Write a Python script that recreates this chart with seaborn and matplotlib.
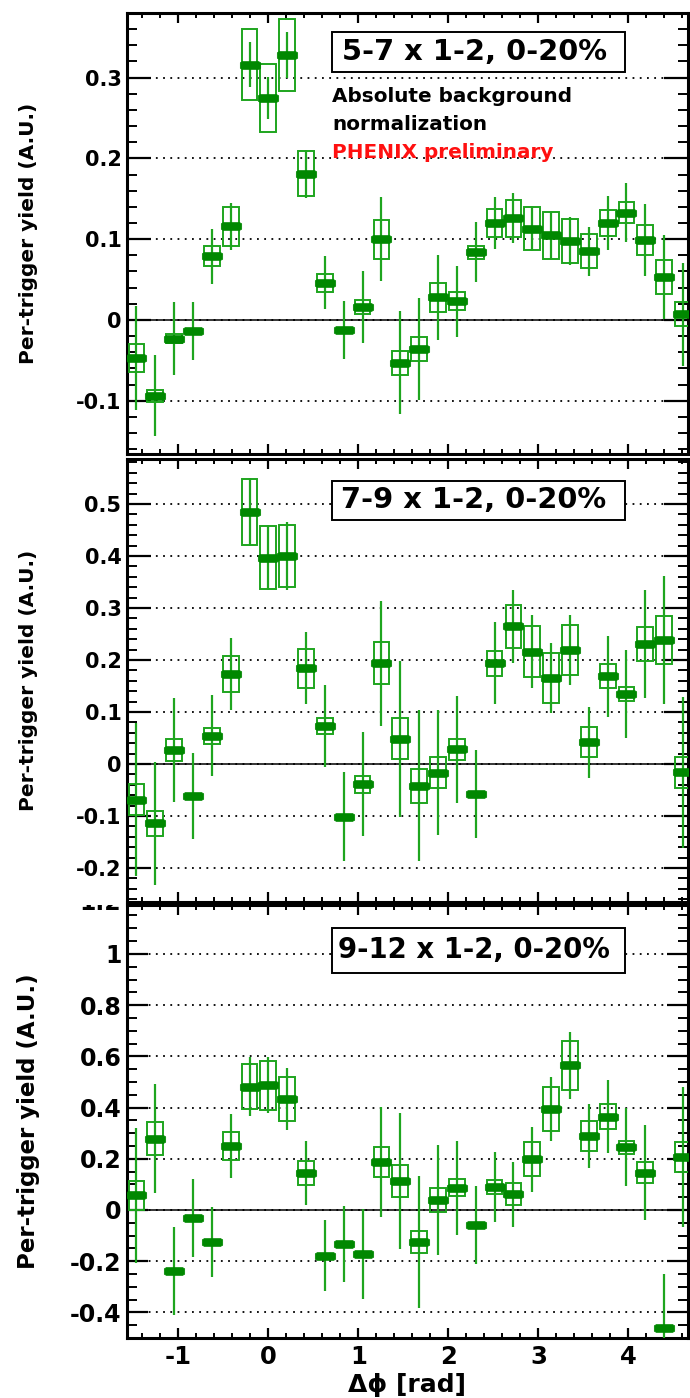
import numpy as np
import pandas as pd
import matplotlib
matplotlib.use("Agg")
import matplotlib.pyplot as plt
import seaborn as sns
from matplotlib.ticker import MultipleLocator, FuncFormatter
from matplotlib.patches import Rectangle
from matplotlib.path import Path
from matplotlib.transforms import Bbox, TransformedBbox

# ---------------- data ----------------
dphi = [-1.466, -1.257, -1.047, -0.838, -0.628, -0.419, -0.209, 0.0, 0.209, 0.419,
        0.628, 0.838, 1.047, 1.257, 1.466, 1.676, 1.885, 2.094, 2.304, 2.513,
        2.723, 2.932, 3.142, 3.351, 3.560, 3.770, 3.979, 4.189, 4.398, 4.608]

# 5-7 x 1-2, 0-20%
y1 = [-0.047, -0.094, -0.023, -0.014, 0.079, 0.116, 0.316, 0.275, 0.328, 0.181,
      0.046, -0.012, 0.016, 0.100, -0.053, -0.036, 0.028, 0.023, 0.084, 0.120,
      0.126, 0.113, 0.105, 0.098, 0.085, 0.120, 0.133, 0.099, 0.053, 0.007]
e1 = [0.064, 0.050, 0.045, 0.036, 0.034, 0.029, 0.028, 0.026, 0.028, 0.030,
      0.033, 0.036, 0.044, 0.052, 0.064, 0.063, 0.053, 0.044, 0.037, 0.032,
      0.031, 0.028, 0.029, 0.030, 0.030, 0.033, 0.036, 0.044, 0.052, 0.064]
s1 = [0.017, 0.007, 0.006, 0.0, 0.012, 0.024, 0.044, 0.042, 0.044, 0.028,
      0.011, 0.0, 0.009, 0.024, 0.015, 0.015, 0.018, 0.011, 0.008, 0.017,
      0.023, 0.027, 0.029, 0.027, 0.021, 0.016, 0.013, 0.019, 0.021, 0.015]

# 7-9 x 1-2, 0-20%
y2 = [-0.069, -0.114, 0.027, -0.062, 0.054, 0.173, 0.485, 0.397, 0.400, 0.184,
      0.073, -0.101, -0.039, 0.194, 0.049, -0.042, -0.017, 0.028, -0.058, 0.194,
      0.265, 0.216, 0.165, 0.219, 0.042, 0.169, 0.135, 0.231, 0.238, -0.016]
e2 = [0.147, 0.118, 0.100, 0.083, 0.078, 0.070, 0.065, 0.062, 0.066, 0.069,
      0.078, 0.085, 0.100, 0.120, 0.150, 0.145, 0.120, 0.103, 0.084, 0.079,
      0.070, 0.070, 0.067, 0.068, 0.068, 0.078, 0.085, 0.104, 0.123, 0.145]
s2 = [0.030, 0.024, 0.022, 0.0, 0.016, 0.035, 0.063, 0.061, 0.060, 0.037,
      0.016, 0.0, 0.016, 0.041, 0.039, 0.033, 0.030, 0.020, 0.0, 0.024,
      0.041, 0.049, 0.048, 0.048, 0.029, 0.023, 0.013, 0.032, 0.046, 0.030]

# 9-12 x 1-2, 0-20%
y3 = [0.057, 0.278, -0.239, -0.032, -0.125, 0.249, 0.482, 0.487, 0.433, 0.145,
      -0.178, -0.133, -0.172, 0.187, 0.114, -0.125, 0.039, 0.087, -0.058, 0.090,
      0.062, 0.198, 0.394, 0.565, 0.288, 0.364, 0.245, 0.146, -0.459, 0.207]
e3 = [0.265, 0.213, 0.171, 0.153, 0.135, 0.125, 0.116, 0.110, 0.120, 0.125,
      0.139, 0.148, 0.175, 0.216, 0.265, 0.258, 0.216, 0.184, 0.153, 0.138,
      0.127, 0.127, 0.124, 0.130, 0.125, 0.142, 0.153, 0.185, 0.210, 0.275]
s3 = [0.057, 0.065, 0.0, 0.0, 0.0, 0.054, 0.088, 0.095, 0.086, 0.048,
      0.0, 0.0, 0.0, 0.058, 0.063, 0.044, 0.045, 0.034, 0.0, 0.026,
      0.044, 0.066, 0.086, 0.095, 0.059, 0.048, 0.026, 0.042, 0.0, 0.060]

panel_titles = ["5-7 x 1-2, 0-20%", "7-9 x 1-2, 0-20%", "9-12 x 1-2, 0-20%"]
ylims = [(-0.166, 0.380), (-0.2654, 0.5865), (-0.50, 1.191)]
ymajor = [0.1, 0.1, 0.2]
yminor = [0.02, 0.02, 0.05]
ylabel = "Per-trigger yield (A.U.)"
xlabel = "Δϕ [rad]"
note_lines = ["Absolute background", "normalization"]
prelim = "PHENIX preliminary"
clipped_tick = 1.2

# ---------------- style ----------------
sns.set_style("ticks")
plt.rcParams["font.family"] = ["DejaVu Sans"]
plt.rcParams["font.weight"] = "bold"
plt.rcParams["axes.unicode_minus"] = False
for k in ["text.color", "axes.labelcolor", "xtick.color", "ytick.color", "axes.edgecolor"]:
    plt.rcParams[k] = "black"

MARK = "#008800"
LINE = "#1ea51e"

W, H = 690, 1398
fig = plt.figure(figsize=(W / 100, H / 100), dpi=100)

def fx(px):
    return px / W

def fy(py):
    return 1 - py / H

# axes pixel boxes: (left, top, right, bottom)
ax_px = [(127, 13, 688, 454), (127, 459, 688, 902), (127, 905, 688, 1338)]
box_px = [(332, 32, 625, 72), (332, 481, 625, 520), (332, 928, 625, 973)]
tick_fs = [15, 15, 17]
ylab_fs = [14.5, 14.5, 16.5]
title_fs = [20.8, 20.8, 19.8]
ymaj_len = [17.5, 17.5, 15]

mpath = Path([(-3, -0.8), (-2.4, -1.15), (2.4, -1.15), (3, -0.8), (3, 0.8),
              (2.4, 1.15), (-2.4, 1.15), (-3, 0.8), (-3, -0.8)], closed=True)

def fmt(v, pos):
    if abs(v) < 1e-9:
        return "0"
    return f"{round(v, 3):g}"

data = [(y1, e1, s1), (y2, e2, s2), (y3, e3, s3)]
axes = []
for i, (yy, ee, ss) in enumerate(data):
    l, t, r, b = ax_px[i]
    ax = fig.add_axes([fx(l), fy(b), fx(r) - fx(l), fy(t) - fy(b)])
    axes.append(ax)
    df = pd.DataFrame({"dphi": dphi, "y": yy, "err": ee, "sys": ss})

    ax.set_xlim(-np.pi / 2, 4.663)
    ax.set_ylim(*ylims[i])

    ax.yaxis.set_major_locator(MultipleLocator(ymajor[i]))
    ax.yaxis.set_minor_locator(MultipleLocator(yminor[i]))
    ax.xaxis.set_major_locator(MultipleLocator(1))
    ax.xaxis.set_minor_locator(MultipleLocator(0.2))
    ax.grid(axis="y", which="major", color="black", lw=1.3, ls=(0, (1, 3)), zorder=0)
    ax.grid(axis="x", visible=False)
    ax.axhline(0, color="black", lw=1.1, zorder=1)

    # systematic boxes
    m = df["sys"] > 0
    ax.bar(df.loc[m, "dphi"], 2 * df.loc[m, "sys"], bottom=df.loc[m, "y"] - df.loc[m, "sys"],
           width=0.175, fill=False, edgecolor=LINE, linewidth=1.4, zorder=3)
    # statistical error bars
    ax.vlines(df["dphi"], df["y"] - df["err"], df["y"] + df["err"], color=LINE, lw=1.6, zorder=3)
    # markers
    sns.scatterplot(data=df, x="dphi", y="y", ax=ax, marker=mpath, s=215,
                    color=MARK, edgecolor=MARK, linewidth=0.5, legend=False, zorder=4)

    ax.yaxis.set_major_formatter(FuncFormatter(fmt))
    ax.xaxis.set_major_formatter(FuncFormatter(fmt))
    ax.tick_params(axis="y", which="major", direction="in", length=ymaj_len[i], width=1.6,
                   left=True, right=True, labelsize=tick_fs[i], pad=4, colors="black")
    ax.tick_params(axis="y", which="minor", direction="in", length=7.5, width=1.4,
                   left=True, right=True, colors="black")
    ax.tick_params(axis="x", which="major", direction="in", length=7.5, width=1.6,
                   top=True, bottom=True, labelsize=17.5, pad=5,
                   labelbottom=(i == 2), colors="black")
    ax.tick_params(axis="x", which="minor", direction="in", length=3.8, width=1.4,
                   top=True, bottom=True, colors="black")
    for lab in ax.get_yticklabels() + ax.get_xticklabels():
        lab.set_fontweight("bold")
    for sp in ax.spines.values():
        sp.set_linewidth(2.2)
        sp.set_color("black")
        sp.set_visible(True)

    ax.set_ylabel(ylabel, fontsize=ylab_fs[i], fontweight="bold", va="center", color="black")
    ax.yaxis.set_label_coords(-(127 - 29) / 561, 0.5)
    if i == 2:
        ax.set_xlabel(xlabel, fontsize=18, fontweight="bold", va="top", color="black")
        ax.xaxis.set_label_coords(0.5, -(1373 - 1338) / 433)
    else:
        ax.set_xlabel("")

    # title box
    bl, bt, br, bb = box_px[i]
    fig.add_artist(Rectangle((fx(bl), fy(bb)), fx(br) - fx(bl), fy(bt) - fy(bb),
                             transform=fig.transFigure, fill=True, facecolor="white",
                             edgecolor="black", lw=1.4, zorder=5))
    fig.text(fx(474), fy((bt + bb) / 2 - 0.5), panel_titles[i], ha="center", va="center",
             fontsize=title_fs[i], fontweight="bold", color="black", zorder=6)

# notes in panel 1
fig.text(fx(332), fy(97), note_lines[0], ha="left", va="center", fontsize=14.4,
         fontweight="bold", color="black")
fig.text(fx(332), fy(125), note_lines[1], ha="left", va="center", fontsize=14.4,
         fontweight="bold", color="black")
fig.text(fx(332), fy(153), prelim, ha="left", va="center", fontsize=14.4, fontweight="bold",
         color="#ff1010")

# clipped top tick label of the bottom panel (cut by the pad above)
ax3 = axes[2]
t = ax3.annotate(f"{clipped_tick:g}", xy=(0, clipped_tick), xycoords=("axes fraction", "data"),
                 xytext=(-4, 0), textcoords="offset points", ha="right", va="center",
                 fontsize=17, fontweight="bold", color="black", annotation_clip=False)
t.set_clip_box(TransformedBbox(Bbox.from_extents(0, 0, 1, fy(ax_px[2][1])), fig.transFigure))
t.set_clip_on(True)

fig.savefig("out.png", dpi=100)
